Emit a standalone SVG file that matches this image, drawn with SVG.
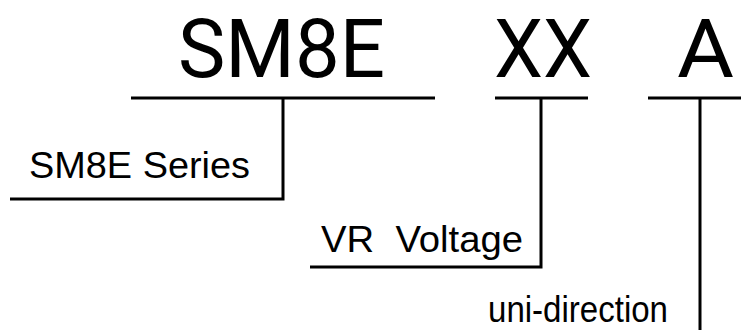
<svg xmlns="http://www.w3.org/2000/svg" width="741" height="330" viewBox="0 0 741 330">
<style>
.big{font-family:Roboto,"Open Sans",sans-serif;font-size:82px;fill:#000}
.lbl{font-family:"Liberation Sans",Arial,sans-serif;font-size:36px;fill:#000}
.ln{stroke:#000;stroke-width:3;fill:none}
</style>
<rect width="741" height="330" fill="#fff"/>
<g id="code-series"><text class="big" x="178" y="77" textLength="207" lengthAdjust="spacingAndGlyphs">SM8E</text></g>
<g id="code-voltage"><text class="big" x="494" y="77" textLength="98" lengthAdjust="spacingAndGlyphs">XX</text></g>
<g id="code-dir"><text class="big" x="677" y="77" textLength="57" lengthAdjust="spacingAndGlyphs">A</text></g>
<g id="label-series"><text class="lbl" x="29" y="178" textLength="221" lengthAdjust="spacingAndGlyphs">SM8E Series</text></g>
<g id="label-voltage"><text class="lbl" x="321" y="252" textLength="202" lengthAdjust="spacingAndGlyphs" xml:space="preserve">VR  Voltage</text></g>
<g id="label-dir"><text class="lbl" x="488" y="322" textLength="180" lengthAdjust="spacingAndGlyphs">uni-direction</text></g>
<g id="connectors">
<polyline class="ln" points="131,98 435,98"/>
<polyline class="ln" points="283,98 283,199 10,199"/>
<polyline class="ln" points="495,98 588,98"/>
<polyline class="ln" points="541,98 541,267 310,267"/>
<polyline class="ln" points="648,98 741,98"/>
<polyline class="ln" points="700,98 700,330"/>
</g>
</svg>
